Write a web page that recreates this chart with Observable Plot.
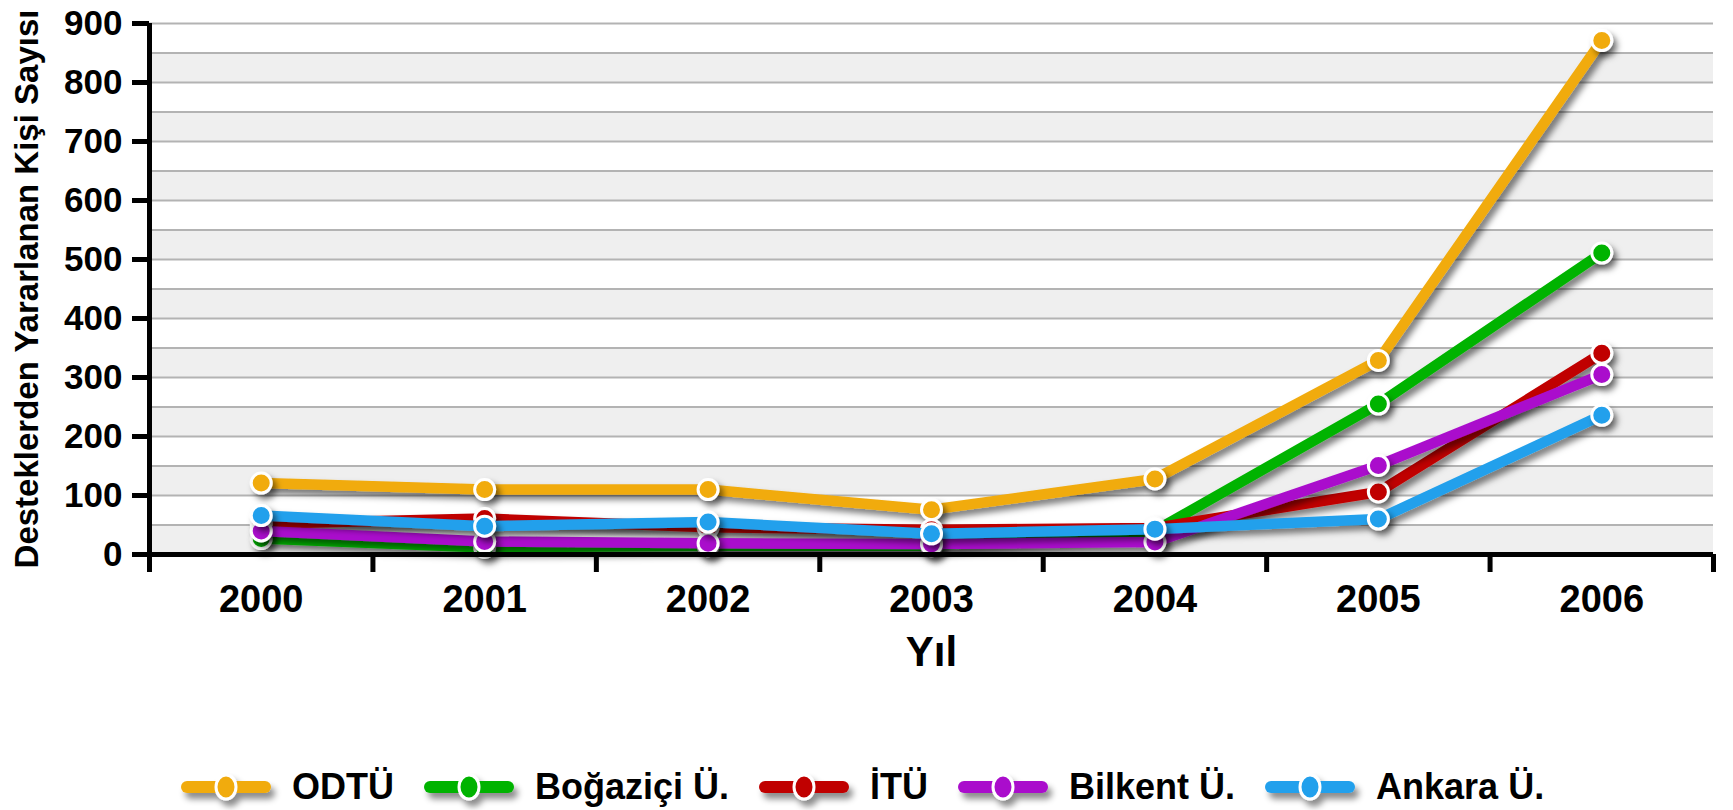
<!DOCTYPE html>
<html>
<head>
<meta charset="utf-8">
<script src="https://cdn.jsdelivr.net/npm/d3@7"></script>
<script src="https://cdn.jsdelivr.net/npm/@observablehq/plot@0.6"></script>
<style>
  body { margin: 0; background: #fff; font-family: "Liberation Sans", Arial, sans-serif; }
  #wrap { position: relative; width: 1733px; height: 810px; overflow: hidden; }
  #legend { position: absolute; left: 181px; top: 762px; height: 50px; display: flex; align-items: center; }
  .item { display: flex; align-items: center; margin-right: 30px; }
  .item svg { margin-right: 21px; overflow: visible; }
  .item span { font-size: 36px; font-weight: bold; color: #000; line-height: 1; }
</style>
</head>
<body>
<div id="wrap">
  <div id="chart"></div>
  <div id="legend"></div>
</div>
<script>
// ---- data ----
const years = [2000, 2001, 2002, 2003, 2004, 2005, 2006];
const seriesNames = ["ODTÜ", "Boğaziçi Ü.", "İTÜ", "Bilkent Ü.", "Ankara Ü."];
const odtu     = [121, 110, 110, 76, 128, 329, 871];
const bogazici = [27, 12, 15, 15, 40, 255, 511];
const itu      = [52, 61, 46, 42, 45, 106, 341];
const bilkent  = [40, 22, 19, 18, 21, 151, 305];
const ankara   = [66, 48, 55, 35, 43, 60, 236];
const seriesColors = ["#F1AB10", "#00B300", "#C00000", "#AA11CC", "#22A0EC"];
const yTicks = [0, 100, 200, 300, 400, 500, 600, 700, 800, 900];
const yTitle = "Desteklerden Yararlanan Kişi Sayısı";
const xTitle = "Yıl";

const seriesValues = [odtu, bogazici, itu, bilkent, ankara];
const rows = seriesNames.flatMap((name, i) =>
  years.map((year, j) => ({ name, year, value: seriesValues[i][j] })));

const gridValues = d3.range(0, 901, 50);
const bandStarts = d3.range(0, 900, 100);
const bounds = [...years.map(y => y - 0.5), years[years.length - 1] + 0.5];

const seriesMarks = seriesNames.flatMap((name, i) => {
  const data = rows.filter(d => d.name === name);
  return [
    Plot.line(data, { x: "year", y: "value", stroke: seriesColors[i], strokeWidth: 10.5,
      strokeLinecap: "round", strokeLinejoin: "round" }),
    Plot.dot(data, { x: "year", y: "value", r: 10, fill: seriesColors[i],
      stroke: "white", strokeWidth: 3 })
  ];
});

const chart = Plot.plot({
  width: 1733,
  height: 700,
  marginLeft: 149,
  marginRight: 20,
  marginTop: 23,
  marginBottom: 146,
  style: { fontFamily: "Liberation Sans, Arial, sans-serif", color: "#000", background: "transparent", overflow: "visible" },
  x: { domain: [bounds[0], bounds[bounds.length - 1]], axis: null },
  y: { domain: [0, 900], axis: null },
  marks: [
    Plot.rect(bandStarts, { y1: d => d, y2: d => d + 50, fill: "#efefef" }),
    Plot.ruleY(gridValues, { stroke: "#b3b3b3", strokeWidth: 2 }),
    ...seriesMarks,
    Plot.ruleY([0], { stroke: "#000", strokeWidth: 5 }),
    Plot.ruleX([bounds[0]], { stroke: "#000", strokeWidth: 5 }),
    Plot.axisY(yTicks, { anchor: "left", tickSize: 17, tickPadding: 10, strokeWidth: 5,
      fontSize: 35, fontWeight: "bold", label: null }),
    Plot.axisX(bounds, { anchor: "bottom", tickSize: 18, strokeWidth: 5,
      tickFormat: () => "", label: null }),
    Plot.axisX(years, { anchor: "bottom", tickSize: 0, tickPadding: 31,
      fontSize: 38, fontWeight: "bold", tickFormat: d => String(d), label: null }),
    Plot.text([xTitle], { frameAnchor: "bottom", dy: 98, lineAnchor: "middle", textAnchor: "middle",
      fontSize: 42, fontWeight: "bold", fill: "#000" }),
    Plot.text([yTitle], { frameAnchor: "left", dx: -122, rotate: -90, textAnchor: "middle", lineAnchor: "middle",
      fontSize: 33, fontWeight: "bold", fill: "#000" })
  ]
});

// drop shadow filter
const svgNS = "http://www.w3.org/2000/svg";
const defs = document.createElementNS(svgNS, "defs");
defs.innerHTML = '<filter id="shadow" filterUnits="userSpaceOnUse" x="-50" y="-50" width="1900" height="900">' +
  '<feDropShadow dx="4" dy="5" stdDeviation="3" flood-color="#000" flood-opacity="0.5"/></filter>' +
  '<filter id="shadow2" x="-30%" y="-60%" width="160%" height="220%">' +
  '<feDropShadow dx="4" dy="6" stdDeviation="3" flood-color="#000" flood-opacity="0.45"/></filter>';
chart.insertBefore(defs, chart.firstChild);
chart.querySelectorAll('g[aria-label="line"], g[aria-label="dot"]').forEach(g => g.setAttribute("filter", "url(#shadow)"));
document.getElementById("chart").appendChild(chart);

// legend
const legend = d3.select("#legend");
seriesNames.forEach((name, i) => {
  const item = legend.append("div").attr("class", "item");
  const s = item.append("svg").attr("width", 90).attr("height", 40);
  const g = s.append("g").attr("filter", "url(#shadow2)");
  g.append("line").attr("x1", 6).attr("x2", 84).attr("y1", 20).attr("y2", 20)
    .attr("stroke", seriesColors[i]).attr("stroke-width", 12).attr("stroke-linecap", "round");
  g.append("ellipse").attr("cx", 45).attr("cy", 20).attr("rx", 10).attr("ry", 12)
    .attr("fill", seriesColors[i]).attr("stroke", "white").attr("stroke-width", 3);
  item.append("span").text(name);
});
</script>
</body>
</html>
